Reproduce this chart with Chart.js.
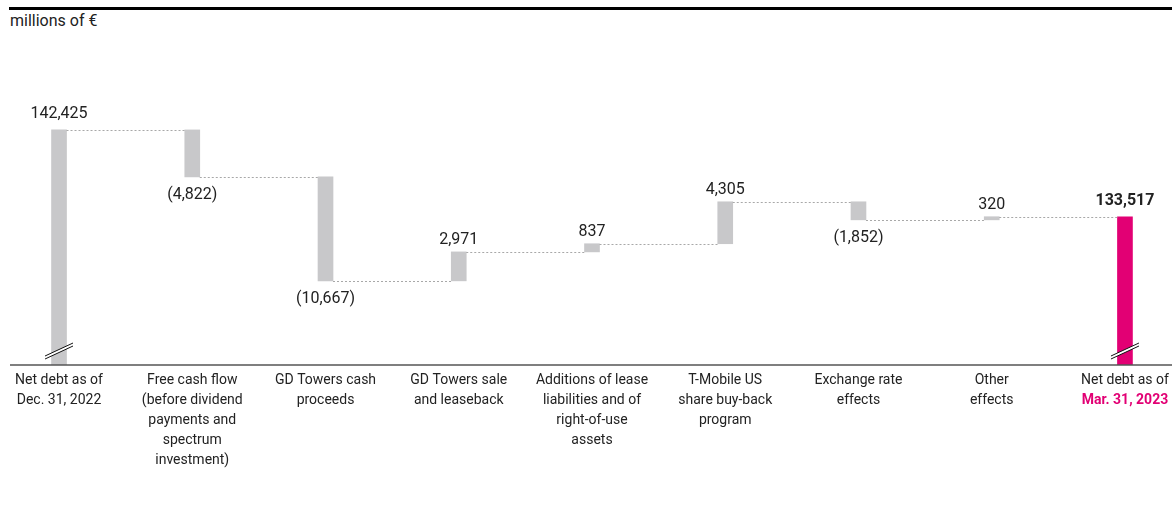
<!DOCTYPE html>
<html>
<head>
<meta charset="utf-8">
<script src="https://cdn.jsdelivr.net/npm/chart.js@4"></script>
<style>
  body { margin:0; background:#fff; font-family:Roboto, sans-serif; }
  .rule { position:absolute; left:9px; top:7px; width:1163px; height:3px; background:#000; }
  .unit { position:absolute; left:10px; top:11px; font-size:16px; color:#222; }
  .wrap { position:absolute; left:0; top:40px; width:1172px; height:485px; }
</style>
</head>
<body>
<div class="rule"></div>
<div class="unit">millions of €</div>
<div class="wrap"><canvas id="c"></canvas></div>
<script>
const LABELS = [
  ['Net debt as of', 'Dec. 31, 2022'],
  ['Free cash flow', '(before dividend', 'payments and', 'spectrum', 'investment)'],
  ['GD Towers cash', 'proceeds'],
  ['GD Towers sale', 'and leaseback'],
  ['Additions of lease', 'liabilities and of', 'right-of-use', 'assets'],
  ['T-Mobile US', 'share buy-back', 'program'],
  ['Exchange rate', 'effects'],
  ['Other', 'effects'],
  ['Net debt as of', 'Mar. 31, 2023']
];
const START = 142425;
const DELTAS = [-4822, -10667, 2971, 837, 4305, -1852, 320];
const END = 133517;
const Y_MIN = 118300, Y_MAX = 149600;
const X_MIN = -0.443, X_MAX = 8.353;

const GREY = '#c8c8ca', MAGENTA = '#e20074', INK = '#222';
const FONT = 'Roboto, sans-serif';

const fmt = v => Math.abs(v).toLocaleString('en-US');

// floating bars from running total
let run = START;
const bars = [{x:0, y:START}];
DELTAS.forEach((d, i) => { bars.push({x:i+1, y:[run, run+d]}); run += d; });
bars.push({x:LABELS.length-1, y:END});
const valueText = [fmt(START), ...DELTAS.map(d => d < 0 ? '(' + fmt(d) + ')' : fmt(d)), fmt(END)];

function breakMark(ctx, cx, cy) {
  const dx = 14, dy = 6.5, gap = 3;
  ctx.fillStyle = '#fff';
  ctx.beginPath();
  ctx.moveTo(cx-dx, cy+dy-gap/2); ctx.lineTo(cx+dx, cy-dy-gap/2);
  ctx.lineTo(cx+dx, cy-dy+gap/2); ctx.lineTo(cx-dx, cy+dy+gap/2);
  ctx.closePath(); ctx.fill();
  ctx.strokeStyle = '#111'; ctx.lineWidth = 1;
  [-gap/2, gap/2].forEach(o => {
    ctx.beginPath(); ctx.moveTo(cx-dx, cy+dy+o); ctx.lineTo(cx+dx, cy-dy+o); ctx.stroke();
  });
}

const waterfall = {
  id: 'waterfall',
  afterDatasetsDraw(chart) {
    const {ctx, chartArea, scales:{x, y}} = chart;
    const els = chart.getDatasetMeta(0).data;
    ctx.save();

    // dotted connectors
    ctx.strokeStyle = '#a8a8a8'; ctx.lineWidth = 1; ctx.setLineDash([2, 2]);
    let level = START;
    for (let i = 0; i < els.length-1; i++) {
      if (i > 0) level += DELTAS[i-1];
      const py = Math.round(y.getPixelForValue(level)) + 0.5;
      ctx.beginPath();
      ctx.moveTo(els[i].x + els[i].width/2, py);
      ctx.lineTo(els[i+1].x - els[i+1].width/2, py);
      ctx.stroke();
    }
    ctx.setLineDash([]);

    // axis line
    ctx.strokeStyle = '#555'; ctx.lineWidth = 1.5;
    ctx.beginPath(); ctx.moveTo(10, chartArea.bottom); ctx.lineTo(chart.width, chartArea.bottom); ctx.stroke();

    // axis break marks on the two totals
    breakMark(ctx, els[0].x, chartArea.bottom - 14);
    breakMark(ctx, els[els.length-1].x, chartArea.bottom - 14);

    // value labels
    ctx.textAlign = 'center'; ctx.textBaseline = 'middle';
    els.forEach((el, i) => {
      const top = Math.min(el.y, el.base), bot = Math.max(el.y, el.base);
      const total = i === 0 || i === els.length-1;
      const neg = !total && DELTAS[i-1] < 0;
      ctx.font = (i === els.length-1 ? 'bold ' : '') + '16px ' + FONT;
      ctx.fillStyle = INK;
      ctx.fillText(valueText[i], el.x, neg ? bot + 18 : top - (total ? 16 : 12));
    });

    // category labels
    LABELS.forEach((lines, i) => {
      const px = x.getPixelForValue(i);
      lines.forEach((t, k) => {
        const last = i === LABELS.length-1 && k === 1;
        ctx.font = (last ? 'bold ' : '') + '14px ' + FONT;
        ctx.fillStyle = last ? MAGENTA : INK;
        ctx.fillText(t, px, chartArea.bottom + 15 + k*20);
      });
    });
    ctx.restore();
  }
};

new Chart(document.getElementById('c'), {
  type: 'bar',
  data: {
    datasets: [{
      data: bars,
      backgroundColor: bars.map((b, i) => i === bars.length-1 ? MAGENTA : GREY),
      barThickness: 15,
      borderWidth: 0
    }]
  },
  options: {
    responsive: true, maintainAspectRatio: false, animation: false,
    layout: { padding: { top:20, left:0, right:0, bottom:0 } },
    plugins: { legend: { display:false }, tooltip: { enabled:false } },
    scales: {
      x: { type:'linear', offset:false, min:X_MIN, max:X_MAX, grid:{display:false}, border:{display:false},
           ticks:{display:false}, afterFit: s => { s.height = 160; } },
      y: { min:Y_MIN, max:Y_MAX, display:false }
    }
  },
  plugins: [waterfall]
});
</script>
</body>
</html>
